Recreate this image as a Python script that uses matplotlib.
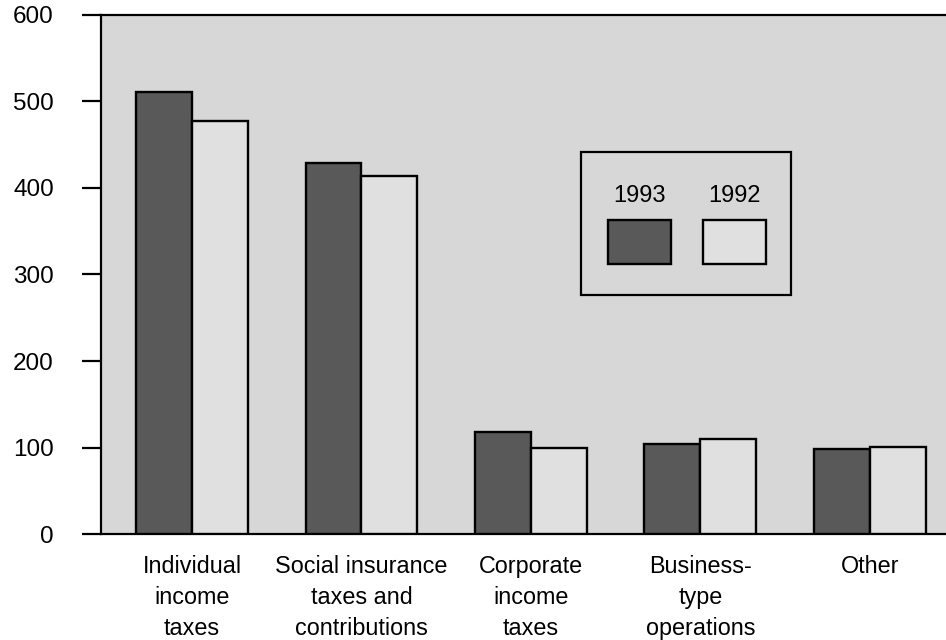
import matplotlib
matplotlib.use("Agg")
import matplotlib.pyplot as plt
import numpy as np
from matplotlib.patches import Rectangle

plt.rcParams['font.family'] = ['Liberation Sans', 'DejaVu Sans']

categories = ["Individual\nincome\ntaxes", "Social insurance\ntaxes and\ncontributions",
              "Corporate\nincome\ntaxes", "Business-\ntype\noperations", "Other"]
vals_1993 = [511, 429, 118, 104, 98]
vals_1992 = [477, 414, 100, 110, 101]
years = ["1993", "1992"]

dark = "#595959"
light = "#e0e0e0"
bg = "#d7d7d7"

fig = plt.figure(figsize=(9.46, 6.4), dpi=100)
ax = fig.add_axes([0.1068, 0.1656, 0.8932, 0.811])
ax.set_facecolor(bg)

x = np.arange(len(categories))
w = 0.33
ax.bar(x - w/2, vals_1993, w, color=dark, edgecolor="black", linewidth=1.7, zorder=3)
ax.bar(x + w/2, vals_1992, w, color=light, edgecolor="black", linewidth=1.7, zorder=3)

ax.set_xlim(-0.537, 4.45)
ax.set_ylim(0, 600)
ax.set_yticks([0, 100, 200, 300, 400, 500, 600])
ax.tick_params(axis='y', direction='out', length=14, width=1.6, pad=20, labelsize=17.5)
ax.set_xticks(x)
ax.set_xticklabels(categories, linespacing=1.45)
ax.tick_params(axis='x', length=0, pad=15, labelsize=16.8)

for s in ['left', 'top', 'bottom']:
    ax.spines[s].set_linewidth(1.6)
ax.spines['right'].set_visible(False)

# legend box, drawn by hand: labels above swatches
ax.add_patch(Rectangle((0.568, 0.4605), 0.2486, 0.2755, transform=ax.transAxes,
                       facecolor=bg, edgecolor="black", linewidth=1.6, zorder=4))
for i, (yr, c) in enumerate(zip(years, [dark, light])):
    x0 = 0.600 + i * 0.1125
    ax.add_patch(Rectangle((x0, 0.5205), 0.074, 0.085, transform=ax.transAxes,
                           facecolor=c, edgecolor="black", linewidth=1.7, zorder=5))
    ax.text(x0 + 0.037, 0.652, yr, transform=ax.transAxes, ha='center', va='center',
            fontsize=17, zorder=5)

fig.savefig("out.png", dpi=100)
